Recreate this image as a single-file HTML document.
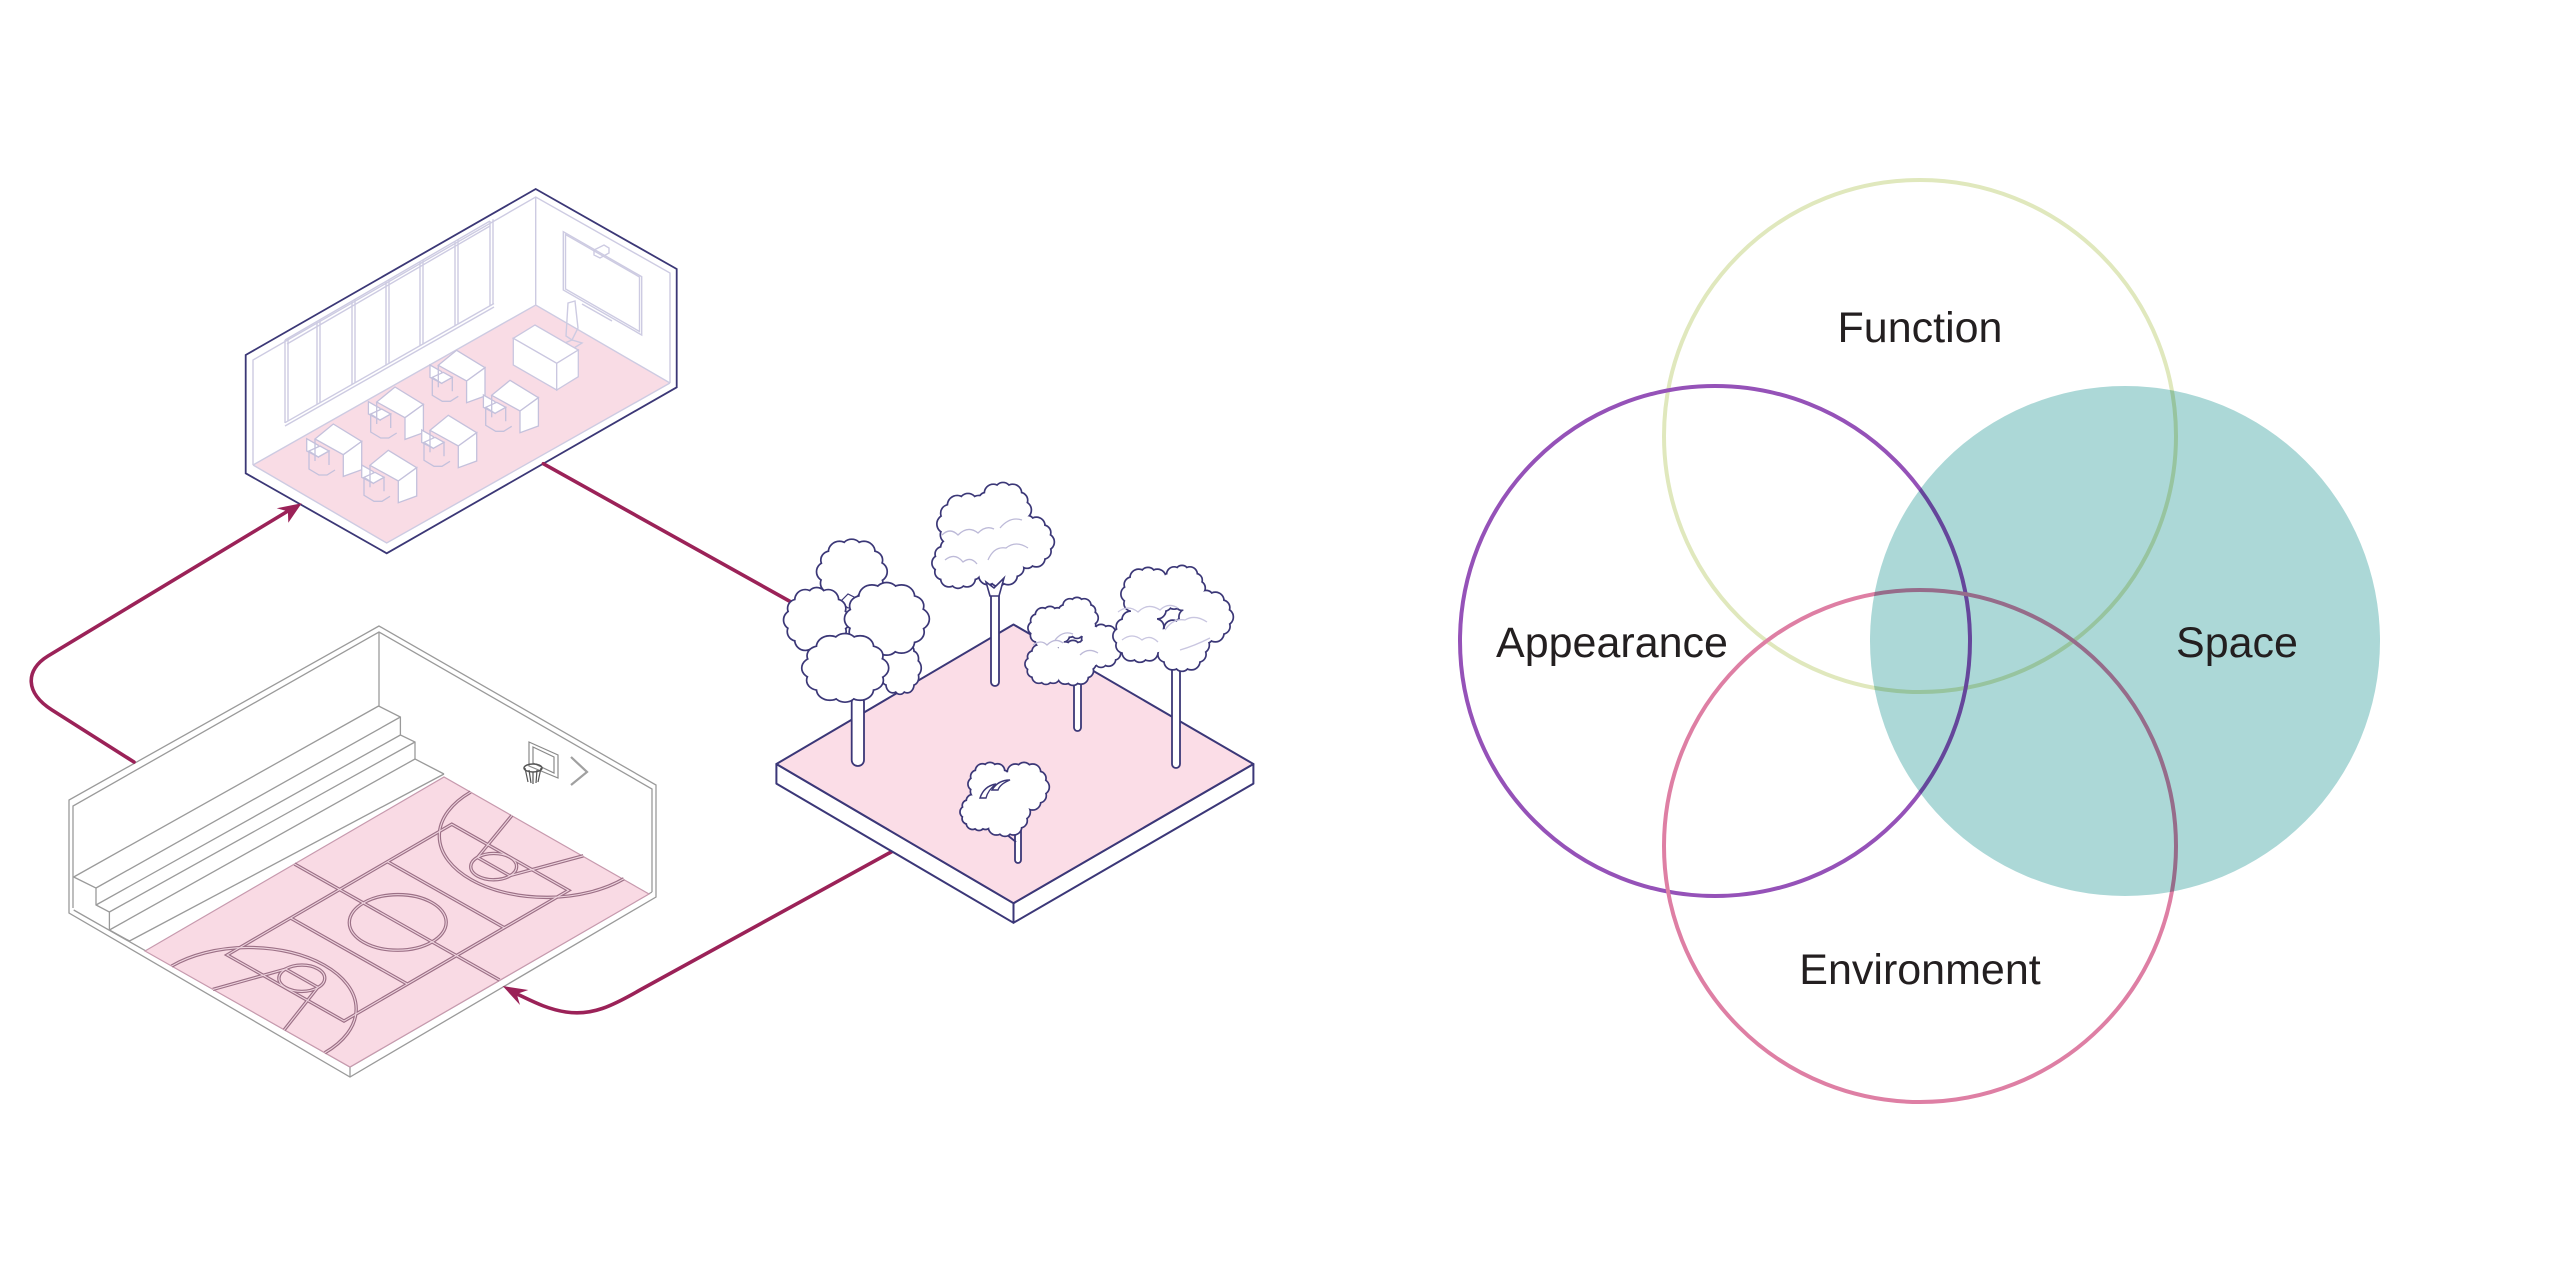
<!DOCTYPE html>
<html><head><meta charset="utf-8">
<style>
html,body{margin:0;padding:0;background:#fff;}
svg{display:block}
.s{fill:#fff;stroke:#3b3777;stroke-width:3.4}
.f{fill:#fff;stroke:none}
.lbl{font-family:"Liberation Sans",Arial,sans-serif;font-size:43px;fill:#231f20}
</style></head><body>
<svg width="2560" height="1281" viewBox="0 0 2560 1281" xmlns="http://www.w3.org/2000/svg" xmlns:xlink="http://www.w3.org/1999/xlink">
<defs>
<g id="bc">
<circle r=".76" vector-effect="non-scaling-stroke"/>
<circle cx=".72" cy="0" r=".3" vector-effect="non-scaling-stroke"/>
<circle cx=".624" cy="-.36" r=".26" vector-effect="non-scaling-stroke"/>
<circle cx=".36" cy="-.624" r=".3" vector-effect="non-scaling-stroke"/>
<circle cx="0" cy="-.72" r=".27" vector-effect="non-scaling-stroke"/>
<circle cx="-.36" cy="-.624" r=".3" vector-effect="non-scaling-stroke"/>
<circle cx="-.624" cy="-.36" r=".26" vector-effect="non-scaling-stroke"/>
<circle cx="-.72" cy="0" r=".29" vector-effect="non-scaling-stroke"/>
<circle cx="-.624" cy=".36" r=".27" vector-effect="non-scaling-stroke"/>
<circle cx="-.36" cy=".624" r=".3" vector-effect="non-scaling-stroke"/>
<circle cx="0" cy=".72" r=".26" vector-effect="non-scaling-stroke"/>
<circle cx=".36" cy=".624" r=".3" vector-effect="non-scaling-stroke"/>
<circle cx=".624" cy=".36" r=".27" vector-effect="non-scaling-stroke"/>
</g>
<g id="desk" stroke="#c4c1dc" stroke-width="1.3" fill="#fff">
<polygon points="-8.3,-0.3 3.3,6.3 3.3,18 -8.3,12"/>
<polyline fill="none" points="-6,12 -6,30 4,36 12,36 20,31"/>
<polyline fill="none" points="3.3,18 14,12 14,26"/>
<polygon points="-6,12 3.3,18 14,12 5,7"/>
<polygon points="0,0 18.3,-15 46.7,2.4 28.3,15.7"/>
<polygon points="28.3,15.7 46.7,2.4 46.7,30.7 28.3,37.4"/>
<line x1="0" y1="0" x2="0" y2="22"/>
</g>
<g id="court" fill="none">
<line x1="173" y1="0" x2="173" y2="235.5" vector-effect="non-scaling-stroke"/>
<rect x="42.9" y="51.8" width="259.9" height="134.2" vector-effect="non-scaling-stroke"/>
<line x1="116.3" y1="51.8" x2="116.3" y2="186" vector-effect="non-scaling-stroke"/>
<line x1="228.4" y1="51.8" x2="228.4" y2="186" vector-effect="non-scaling-stroke"/>
<circle cx="173" cy="118.6" r="39.5" vector-effect="non-scaling-stroke"/>
<circle cx="62" cy="118.6" r="18.7" vector-effect="non-scaling-stroke"/>
<circle cx="284" cy="118.6" r="18.7" vector-effect="non-scaling-stroke"/>
<line x1="62" y1="99.9" x2="62" y2="137.3" vector-effect="non-scaling-stroke"/>
<line x1="284" y1="99.9" x2="284" y2="137.3" vector-effect="non-scaling-stroke"/>
<line x1="0" y1="78" x2="62" y2="100" vector-effect="non-scaling-stroke"/>
<line x1="0" y1="160" x2="62" y2="137" vector-effect="non-scaling-stroke"/>
<line x1="346" y1="78" x2="284" y2="100" vector-effect="non-scaling-stroke"/>
<line x1="346" y1="160" x2="284" y2="137" vector-effect="non-scaling-stroke"/>
<path d="M0,30.6 A88,88 0 0 1 0,206.6" vector-effect="non-scaling-stroke"/>
<path d="M346,30.6 A88,88 0 0 0 346,206.6" vector-effect="non-scaling-stroke"/>
</g>
</defs>

<!-- ================= GYM ================= -->
<g fill="none" stroke="#9a9a9a" stroke-width="1.3">
<polygon points="379,626 69,800 69,913 350,1077 656,897 656,785" fill="#fff"/>
<polyline points="73,908 73,806 379,632 652,789 652,892"/>
<line x1="379" y1="632" x2="379" y2="706"/>
<polyline points="73.7,910 350,1067 652,892"/>
<line x1="350" y1="1067" x2="350" y2="1077"/>
<polyline points="73.7,877 96,888 96,905 109.4,912 109.4,930 129.5,941"/>
<polyline points="378.6,706 400.4,717 400.4,735 415,742 415,759 444,774"/>
<line x1="73.7" y1="877" x2="378.6" y2="706"/>
<line x1="96" y1="888" x2="400.4" y2="717"/>
<line x1="96" y1="905" x2="400.4" y2="735"/>
<line x1="109.4" y1="912" x2="415" y2="742"/>
<line x1="109.4" y1="930" x2="415" y2="759"/>
<line x1="129.5" y1="941" x2="444" y2="774"/>
</g>
<polygon points="145,951 444,777 649,894 350,1067" fill="#f9dae4" stroke="#c79aae" stroke-width="1.2"/>
<g transform="matrix(0.8642,-0.5029,0.8705,0.4926,145,951)">
<use href="#court" stroke="#9c7086" stroke-width="3.4"/>
<use href="#court" stroke="#efd3de" stroke-width="1.1"/>
</g>
<g fill="none" stroke="#8a8a8a" stroke-width="1.2">
<polygon points="529,742 558,755 558,778 529,766"/>
<polygon points="533,747 554,757 554,773 533,763"/>
<ellipse cx="533" cy="768" rx="9" ry="4" stroke="#555" stroke-width="1.5"/>
<path d="M525,768 L528,782 M529,770 L531,783 M533,772 L533,784 M537,770 L536,783 M541,768 L538,782" stroke="#555"/>
<polyline points="571,757 587,772 571,785" stroke-width="2.2" stroke="#a0a0a0"/>
</g>

<!-- ================= CLASSROOM ================= -->
<polygon points="535.7,189 245.7,355 245.7,473.3 386.7,553.3 676.7,387.3 676.7,269" fill="#fff"/>
<polygon points="253,465 535.7,305 670,383 386.7,543" fill="#f9dce5"/>
<g fill="none" stroke="#cdcbe2" stroke-width="1.4">
<polyline points="253,465 253,360 535.7,197 670,273 670,383"/>
<line x1="535.7" y1="197" x2="535.7" y2="305"/>
<polyline points="253,465 535.7,305 670,383"/>
<polyline points="253,465 386.7,543 670,383"/>
<line x1="285" y1="340" x2="490" y2="221"/>
<line x1="287" y1="344" x2="490" y2="226"/>
<line x1="285" y1="422.7" x2="494" y2="303.5"/>
<line x1="285" y1="426" x2="494" y2="307"/>
<path d="M285,340V423 M288,338V421 M317,321.4V404.5 M320,319.6V402.8 M352,301.1V384.6 M355,299.4V382.9 M386,281.4V365.3 M389,279.7V363.6 M420,261.7V346 M423,260V344.3 M455,241.4V326.1 M458,239.7V324.4 M490,221V306 M493,219.3V304.3"/>
<polygon points="563.3,231.7 641.7,276.7 641.7,335 563.3,290"/>
<polygon points="565.5,234.5 639.5,277 639.5,331.5 565.5,289"/>
<line x1="582" y1="304" x2="612" y2="321"/>
<polygon points="594,250 604,245 609,248 609,253 600,258 594,255"/>
<polygon points="568,303 575,301 578,328 572,340 566,336"/>
<polyline points="560,345 572,340 582,343 574,348"/>
</g>
<g stroke="#cac7e0" stroke-width="1.3" fill="#fff">
<polygon points="513.3,338.3 535,325 578.3,350 556.7,363.3"/>
<polygon points="513.3,338.3 556.7,363.3 556.7,390 513.3,365"/>
<polygon points="556.7,363.3 578.3,350 578.3,376.7 556.7,390"/>
</g>
<use href="#desk" x="315" y="439"/>
<use href="#desk" x="376.7" y="402"/>
<use href="#desk" x="438.3" y="365.3"/>
<use href="#desk" x="370" y="465.3"/>
<use href="#desk" x="430" y="430.3"/>
<use href="#desk" x="491.7" y="395.3"/>
<polygon points="535.7,189 245.7,355 245.7,473.3 386.7,553.3 676.7,387.3 676.7,269" fill="none" stroke="#3b3776" stroke-width="1.8"/>

<!-- ================= CONNECTORS ================= -->
<g fill="none" stroke="#9b2258" stroke-width="3.6" stroke-linecap="round">
<path d="M134,762 L52,710 C25,693 25,670 48,656 L288,511"/>
<path d="M543.3,463.7 L800,607"/>
<path d="M902,846 L640,990 C612,1006 592,1016 566,1012 C546,1009 530,1000 517,994"/>
</g>
<polygon points="301.7,503.3 276.7,508.3 287.9,511.4 288.3,522.7" fill="#9b2258"/>
<polygon points="502.7,986 528.3,990 516.7,994 520,1005" fill="#9b2258"/>

<!-- ================= PARK ================= -->
<g stroke="#3b3778" stroke-width="2" stroke-linejoin="round">
<polygon points="776.4,764 776.4,783.6 1013.5,922.8 1013.5,903.2" fill="#fff"/>
<polygon points="1013.5,903.2 1013.5,922.8 1253.4,783.6 1253.4,764" fill="#fff"/>
<polygon points="1013.5,624.5 776.4,764 1013.5,903.2 1253.4,764" fill="#fbdde7"/>
</g>

<!-- Tree 2 -->
<g stroke="#3b3777" stroke-width="1.8" fill="#fff">
<rect x="991" y="570" width="8" height="116" rx="4"/>
<path d="M992,592 L980,574 M998,590 L1010,572" fill="none"/>
</g>
<use href="#bc" class="s" transform="translate(968 524) scale(30)"/>
<use href="#bc" class="s" transform="translate(1003 510) scale(27)"/>
<use href="#bc" class="s" transform="translate(1027 542) scale(26)"/>
<use href="#bc" class="s" transform="translate(998 558) scale(28)"/>
<use href="#bc" class="s" transform="translate(958 563) scale(25)"/>
<use href="#bc" class="f" transform="translate(968 524) scale(30)"/>
<use href="#bc" class="f" transform="translate(1003 510) scale(27)"/>
<use href="#bc" class="f" transform="translate(1027 542) scale(26)"/>
<use href="#bc" class="f" transform="translate(998 558) scale(28)"/>
<use href="#bc" class="f" transform="translate(958 563) scale(25)"/>
<g fill="none" stroke="#bdbad8" stroke-width="1.3">
<path d="M942,535 q8,-8 16,0 q10,-10 20,-2 q8,-8 16,-4 M945,560 q10,-8 18,2 q8,-6 14,2 M988,560 q6,-14 18,-12 q10,-8 22,0 M1000,528 q10,-12 22,-8"/>
</g>
<g stroke="#3b3777" stroke-width="1.6" fill="#fff"><path d="M990,596 L986,582 L994,588 L1004,578 L999,596 Z"/></g>

<!-- Tree 3 -->
<g stroke="#3b3777" stroke-width="1.8" fill="#fff">
<rect x="1074" y="668" width="7" height="63" rx="3.5"/>
<path d="M1075,684 L1066,672 M1080,682 L1090,668" fill="none"/>
</g>
<use href="#bc" class="s" transform="translate(1050 628) scale(21)"/>
<use href="#bc" class="s" transform="translate(1077 618) scale(20)"/>
<use href="#bc" class="s" transform="translate(1101 646) scale(21)"/>
<use href="#bc" class="s" transform="translate(1073 663) scale(22)"/>
<use href="#bc" class="s" transform="translate(1046 664) scale(20)"/>
<use href="#bc" class="f" transform="translate(1050 628) scale(21)"/>
<use href="#bc" class="f" transform="translate(1077 618) scale(20)"/>
<use href="#bc" class="f" transform="translate(1101 646) scale(21)"/>
<use href="#bc" class="f" transform="translate(1073 663) scale(22)"/>
<use href="#bc" class="f" transform="translate(1046 664) scale(20)"/>
<g fill="none" stroke="#bdbad8" stroke-width="1.3">
<path d="M1033,645 q8,-6 14,0 q8,-8 16,-2 M1055,640 q8,-10 18,-6 M1080,655 q8,-8 18,-2"/>
</g>

<!-- Tree 4 -->
<g stroke="#3b3777" stroke-width="1.8" fill="#fff">
<rect x="1172" y="650" width="8" height="118" rx="4"/>
<path d="M1173,668 L1164,655 M1179,666 L1190,652" fill="none"/>
</g>
<use href="#bc" class="s" transform="translate(1148 594) scale(26)"/>
<use href="#bc" class="s" transform="translate(1182 588) scale(22)"/>
<use href="#bc" class="s" transform="translate(1206 617) scale(26)"/>
<use href="#bc" class="s" transform="translate(1182 645) scale(26)"/>
<use href="#bc" class="s" transform="translate(1140 636) scale(26)"/>
<use href="#bc" class="f" transform="translate(1148 594) scale(26)"/>
<use href="#bc" class="f" transform="translate(1182 588) scale(22)"/>
<use href="#bc" class="f" transform="translate(1206 617) scale(26)"/>
<use href="#bc" class="f" transform="translate(1182 645) scale(26)"/>
<use href="#bc" class="f" transform="translate(1140 636) scale(26)"/>
<g fill="none" stroke="#c9c6e0" stroke-width="1.3">
<path d="M1118,612 q10,-8 20,0 q10,-10 22,-2 q8,-8 18,-2 M1122,640 q10,-8 20,0 q8,-6 16,2 M1165,630 q8,-12 20,-10 q10,-6 22,2 M1180,650 q14,-4 30,-12"/>
</g>

<!-- Tree 1 -->
<g stroke="#3b3777" stroke-width="1.8" fill="#fff">
<rect x="851.7" y="696" width="12.3" height="70" rx="6"/>
</g>
<use href="#bc" class="s" transform="translate(900 668) scale(20 26)"/>
<use href="#bc" class="f" transform="translate(900 668) scale(20 26)"/>
<use href="#bc" class="s" transform="translate(851.7 571.7) scale(34 32)"/>
<use href="#bc" class="f" transform="translate(851.7 571.7) scale(34 32)"/>
<g stroke="#3b3777" stroke-width="1.2" fill="#fff"><path d="M840,602 L848,594 L856,598 L862,590 L866,600 L860,606 L848,608 Z"/></g>
<use href="#bc" class="s" transform="translate(816.7 620) scale(32 32)"/>
<use href="#bc" class="f" transform="translate(816.7 620) scale(32 32)"/>
<use href="#bc" class="s" transform="translate(886.7 619) scale(41 36)"/>
<use href="#bc" class="f" transform="translate(886.7 619) scale(41 36)"/>
<use href="#bc" class="s" transform="translate(845 668) scale(42 34)"/>
<use href="#bc" class="f" transform="translate(845 668) scale(42 34)"/>

<!-- Tree 5 -->
<g stroke="#3b3777" stroke-width="1.8" fill="#fff">
<rect x="1015" y="826" width="6" height="37" rx="3"/>
<path d="M1016,842 L1006,834" fill="none"/>
</g>
<use href="#bc" class="s" transform="translate(990 784) scale(21)"/>
<use href="#bc" class="s" transform="translate(1024 787) scale(24)"/>
<use href="#bc" class="s" transform="translate(1005 812) scale(24)"/>
<use href="#bc" class="s" transform="translate(979 812) scale(18)"/>
<use href="#bc" class="f" transform="translate(990 784) scale(21)"/>
<use href="#bc" class="f" transform="translate(1024 787) scale(24)"/>
<use href="#bc" class="f" transform="translate(1005 812) scale(24)"/>
<use href="#bc" class="f" transform="translate(979 812) scale(18)"/>
<path d="M980,798 q4,-12 16,-14 q-8,6 -10,14 Z M992,790 q6,-10 18,-10 q-10,4 -12,10 Z" fill="#fff" stroke="#3b3777" stroke-width="1.4"/>

<!-- ================= VENN ================= -->
<g fill="none" stroke-width="4">
<circle cx="1920" cy="436" r="256" stroke="#e0e8bd"/>
<circle cx="1715" cy="641" r="255" stroke="#9552b8"/>
<circle cx="1920" cy="846" r="256" stroke="#de7fa4"/>
</g>
<circle cx="2125" cy="641" r="255" fill="#acd8d7" style="mix-blend-mode:multiply"/>
<text class="lbl" x="1920" y="342" text-anchor="middle">Function</text>
<text class="lbl" x="1612" y="657" text-anchor="middle">Appearance</text>
<text class="lbl" x="2237" y="657" text-anchor="middle">Space</text>
<text class="lbl" x="1920" y="984" text-anchor="middle">Environment</text>
</svg>
</body></html>
